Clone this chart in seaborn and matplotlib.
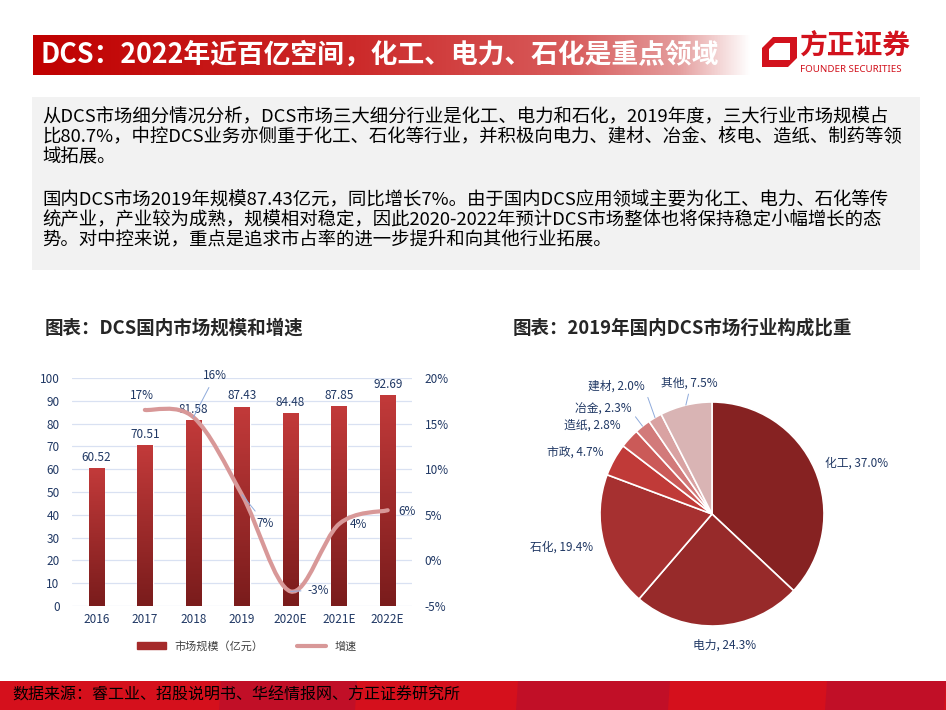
import numpy as np
import pandas as pd
import seaborn as sns
import matplotlib.pyplot as plt
from matplotlib.colors import LinearSegmentedColormap
from matplotlib.patches import Rectangle, Polygon, PathPatch, Patch
from matplotlib.lines import Line2D
from matplotlib.path import Path

# bar chart data
years = ['2016', '2017', '2018', '2019', '2020E', '2021E', '2022E']
market_size = [60.52, 70.51, 81.58, 87.43, 84.48, 87.85, 92.69]
growth_years = ['2017', '2018', '2019', '2020E', '2021E', '2022E']
growth_rate = [16.5, 15.7, 7.2, -3.4, 4.0, 5.5]
growth_labels = ['17%', '16%', '7%', '-3%', '4%', '6%']
left_ticks = [0, 10, 20, 30, 40, 50, 60, 70, 80, 90, 100]
right_ticks = [-5, 0, 5, 10, 15, 20]

# pie chart data
sectors = ['化工', '电力', '石化', '市政', '造纸', '冶金', '建材', '其他']
sector_share = [37.0, 24.3, 19.4, 4.7, 2.8, 2.3, 2.0, 7.5]
sector_colors = ['#862222', '#972a2a', '#a63030', '#c03a38', '#cb5a58',
                 '#d27a7a', '#d9a2a2', '#d9b4b4']

title = 'DCS：2022年近百亿空间，化工、电力、石化是重点领域'
body_lines = [
    '从DCS市场细分情况分析，DCS市场三大细分行业是化工、电力和石化，2019年度，三大行业市场规模占',
    '比80.7%，中控DCS业务亦侧重于化工、石化等行业，并积极向电力、建材、冶金、核电、造纸、制药等领',
    '域拓展。',
    '',
    '国内DCS市场2019年规模87.43亿元，同比增长7%。由于国内DCS应用领域主要为化工、电力、石化等传',
    '统产业，产业较为成熟，规模相对稳定，因此2020-2022年预计DCS市场整体也将保持稳定小幅增长的态',
    '势。对中控来说，重点是追求市占率的进一步提升和向其他行业拓展。',
]
source = '数据来源：睿工业、招股说明书、华经情报网、方正证券研究所'

navy = '#203864'

sns.set_theme(style='white')
plt.rcParams['font.family'] = ['Noto Sans CJK SC', 'DejaVu Sans']
plt.rcParams['axes.unicode_minus'] = False

fig = plt.figure(figsize=(9.46, 7.1), dpi=100)

# background layer in pixel coordinates
bg = fig.add_axes([0, 0, 1, 1], zorder=0)
head_cmap = LinearSegmentedColormap.from_list(
    'head', [(0, '#c00000'), (0.45, '#cc2a2a'), (0.75, '#d85c5c'),
             (0.9, '#e49c9c'), (1, '#ffffff')])
bg.imshow(np.linspace(0, 1, 256).reshape(1, -1), cmap=head_cmap,
          extent=[33, 750, 75, 35], aspect='auto')
bg.text(40, 55, title, color='white', fontsize=19.3, fontweight='bold', va='center')

# logo
bg.add_patch(Polygon([(773, 37), (797, 37), (797, 58), (788, 67), (762, 67), (762, 48)],
                     closed=True, color='#d2121d', lw=0))
bg.add_patch(Polygon([(775, 43), (790, 43), (790, 60), (769, 60), (769, 49)],
                     closed=True, color='white', lw=0))
bg.text(799, 47, '方正证券', color='#d2121d', fontsize=20, fontweight='bold', va='center')
bg.text(800, 70, 'FOUNDER SECURITIES', color='#d2121d', fontsize=7, fontweight='bold',
        va='center', family='Noto Sans')

# text box
bg.add_patch(Rectangle((32, 97), 888, 173, color='#f2f2f2', lw=0))
line_y = [117, 137, 157, 179, 200, 220, 240]
for y, line in zip(line_y, body_lines):
    bg.text(42, y, line, fontsize=13.25, color='black', va='center')

# chart titles
bg.text(45, 328, '图表：DCS国内市场规模和增速', fontsize=13.3, fontweight='bold', va='center')
bg.text(513, 328, '图表：2019年国内DCS市场行业构成比重', fontsize=13.3, fontweight='bold', va='center')

# footer
bg.add_patch(Rectangle((0, 681), 946, 29, color='#d5101c', lw=0))
for x0, x1 in [(221, 357), (518, 670), (827, 946)]:
    bg.add_patch(Polygon([(x0, 681), (x1, 681), (x1 - 2, 710), (x0 - 2, 710)],
                         closed=True, color='#c10f27', lw=0))
bg.text(12, 695, source, fontsize=11.5, style='italic', color='black', va='center')

bg.set_xlim(0, 946)
bg.set_ylim(710, 0)
bg.axis('off')

# ---- bar + line chart ----
ax = fig.add_axes([72 / 946, 1 - 606 / 710, 340 / 946, 228 / 710], zorder=1)
ax.set_facecolor('none')
bar_df = pd.DataFrame({'year': years, 'size': market_size})
sns.barplot(data=bar_df, x='year', y='size', color='#a52a2a', saturation=1,
            width=0.32, ax=ax)

bar_cmap = LinearSegmentedColormap.from_list('bar', ['#7a1c1c', '#c23a3a'])
for bar in ax.patches:
    x0, y0 = bar.get_x(), bar.get_y()
    w, h = bar.get_width(), bar.get_height()
    im = ax.imshow(np.linspace(0, 1, 100).reshape(-1, 1), cmap=bar_cmap, origin='lower',
                   extent=[x0, x0 + w, y0, y0 + h], aspect='auto', zorder=2)
    im.set_clip_path(bar)

ax.bar_label(ax.containers[0], labels=[f'{v:.2f}' for v in market_size],
             padding=3, fontsize=8.5, color=navy)
ax.set_xlim(-0.5, 6.5)
ax.set_ylim(0, 100)
ax.set_yticks(left_ticks)
ax.set_xlabel('')
ax.set_ylabel('')
ax.yaxis.grid(True, color='#d9e1f2', lw=0.9)
ax.set_axisbelow(True)
ax.tick_params(axis='both', length=0, labelsize=8.5, labelcolor=navy)
ax.tick_params(axis='y', pad=9)
ax.tick_params(axis='x', pad=5)
for s in ax.spines.values():
    s.set_visible(False)

ax2 = ax.twinx()
ax2.set_ylim(-5, 20)
ax2.set_yticks(right_ticks)
ax2.set_yticklabels([f'{t}%' for t in right_ticks])
ax2.tick_params(axis='y', length=0, labelsize=8.5, labelcolor=navy, pad=9)
ax2.grid(False)
for s in ax2.spines.values():
    s.set_visible(False)

# smoothed growth line (Catmull-Rom through the data points)
gx = [years.index(y) for y in growth_years]
pts = np.column_stack([gx, growth_rate]).astype(float)
verts = [pts[0]]
codes = [Path.MOVETO]
for i in range(len(pts) - 1):
    p0 = pts[i - 1] if i > 0 else pts[i]
    p1, p2 = pts[i], pts[i + 1]
    p3 = pts[i + 2] if i + 2 < len(pts) else pts[i + 1]
    verts += [p1 + (p2 - p0) / 6, p2 - (p3 - p1) / 6, p2]
    codes += [Path.CURVE4] * 3
ax2.add_patch(PathPatch(Path(verts, codes), fill=False, ec='#d89898', lw=3,
                        capstyle='round', zorder=3))

label_pos = [(0.94, 18.1), (2.45, 20.3), (3.47, 4.1), (4.56, -3.25), (5.40, 3.9), (6.39, 5.4)]
leader = [False, True, True, True, False, False]
for xi, yv, lab, pos, ld in zip(gx, growth_rate, growth_labels, label_pos, leader):
    props = dict(arrowstyle='-', color='#8eaadb', lw=0.7, shrinkA=2, shrinkB=0) if ld else None
    ax2.annotate(lab, xy=(xi, yv), xytext=pos, textcoords='data', ha='center', va='center',
                 fontsize=8.5, color=navy, arrowprops=props, zorder=4)

handles = [Patch(color='#a52a2a'), Line2D([0], [0], color='#d89898', lw=3)]
fig.legend(handles, ['市场规模（亿元）', '增速'], loc='center',
           bbox_to_anchor=(247 / 946, 1 - 646 / 710), ncol=2, frameon=False,
           fontsize=8, handlelength=2.6, handleheight=0.6, columnspacing=3,
           labelcolor='#404040')

# ---- pie chart ----
axp = fig.add_axes([(712 - 112) / 946, 1 - (514 + 112) / 710, 224 / 946, 224 / 710], zorder=1)
wedges, _ = axp.pie(sector_share, colors=sector_colors, startangle=90, counterclock=False,
                    wedgeprops=dict(edgecolor='white', linewidth=1.2))
axp.set_xlim(-1, 1)
axp.set_ylim(-1, 1)

pie_text = [(1.01, 0.45, 'left'), (0.11, -1.17, 'center'), (-1.06, -0.30, 'right'),
            (-0.97, 0.555, 'right'), (-0.82, 0.79, 'right'), (-0.72, 0.94, 'right'),
            (-0.60, 1.14, 'right'), (-0.20, 1.17, 'center')]
pie_leader = [False, False, False, False, False, True, True, True]
for w, name, share, (tx, ty, ha), ld in zip(wedges, sectors, sector_share, pie_text, pie_leader):
    ang = np.deg2rad((w.theta1 + w.theta2) / 2)
    edge = (np.cos(ang), np.sin(ang))
    props = None
    if ld:
        relpos = (0.5, 0) if ha == 'center' else (1.0, 0.3)
        props = dict(arrowstyle='-', color='#8eaadb', lw=0.7, shrinkA=1, shrinkB=0,
                     relpos=relpos)
    axp.annotate(f'{name}, {share:.1f}%', xy=edge, xytext=(tx, ty), ha=ha, va='center',
                 fontsize=8.5, color=navy, arrowprops=props, annotation_clip=False)

fig.savefig('out.png', dpi=100)
